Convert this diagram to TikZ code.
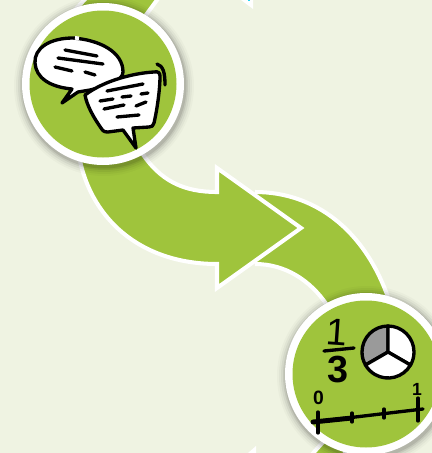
\documentclass[tikz,border=0pt]{standalone}
\usepackage{fontspec}
\setmainfont{Liberation Sans}
\definecolor{paper}{HTML}{EFF3E2}
\definecolor{leaf}{HTML}{9FC43C}
\definecolor{slice}{HTML}{9A9A9A}
\definecolor{speck}{HTML}{22D3F0}
\tikzset{
    band/.style={fill=leaf,draw=white,line width=2.3pt,line join=miter},
    ink/.style={line width=1.9pt,line cap=round,line join=round},
    bubble/.style={ink,fill=white},
    digit/.style={inner sep=0pt,text=black}
}
\begin{document}
\begin{tikzpicture}[x=0.02cm,y=-0.02cm]
\useasboundingbox (0,0) rectangle (432,453);
\fill[paper] (0,0) rectangle (432,453);

\fill[white] (241,0)--(253,9)--(253,0)--cycle;
\fill[speck] (248,0) rectangle (250,1.5);
\fill[white] (248,453)--(256,446)--(256,453)--cycle;

\draw[band] (88,-4)--(160,-4)--(120,50)--(60,26)--cycle;
\draw[band] (255,192) .. controls (315,192) and (365,230) .. (389,300)
    --(327,305) .. controls (310,280) and (285,264) .. (255,264);
\draw[band] (78,150) .. controls (88,218) and (140,264) .. (217,264)
    --(217,288)--(301,228)--(217,168)--(217,192)
    .. controls (185,192) and (160,182) .. (140,150)--cycle;
\draw[band] (305,462)--(325,440)--(345,440)--(345,462)--cycle;

\foreach \cx/\cy in {103/84,366/374}{
    \foreach \r/\o in {90/0.025,88/0.035,86/0.05,84/0.07,82.5/0.09}{
        \fill[black,opacity=\o] (\cx+1,\cy+2) circle (\r);
    }
    \fill[white] (\cx,\cy) circle (81);
    \fill[leaf] (\cx,\cy) circle (73.5);
}

\draw[bubble] (73,38) .. controls (50,38) and (34,48) .. (35,63)
    .. controls (36,78) and (50,87) .. (72,89)
    --(62,103)--(78,92)--(90,90)
    .. controls (110,85) and (123,80) .. (123,72)
    .. controls (123,52) and (100,40) .. (73,38)--cycle;
\draw[white,line width=2.1pt] (75,37.8)--(79,38.4);
\foreach \ax/\ay/\bx/\by in {65/50/97/56, 58/58/103/64, 55/67/72/71, 85/72/95/75}{
    \draw[ink] (\ax,\ay)--(\bx,\by);
}

\draw[bubble] (85,95) .. controls (105,80) and (135,73) .. (154,72)
    .. controls (158,71) and (160,73) .. (160,76)
    .. controls (160,90) and (157,110) .. (154,123)
    .. controls (153,126) and (152,127) .. (149,127)
    --(133,128)--(136,148)--(123,130)--(108,132)
    .. controls (104,132) and (103,131) .. (101,128)
    .. controls (94,118) and (87,106) .. (85,95)--cycle;
\draw[ink] (157,64) .. controls (163,66) and (165,72) .. (165,85);
\foreach \ax/\ay/\bx/\by in {107/91/143/84, 100/101/113/99, 122/97/131/96, 141/94/148/93,
    104/109/124/105, 136/106/146/102, 117/117/139/115}{
    \draw[ink] (\ax,\ay)--(\bx,\by);
}

\node[digit,font=\fontsize{21.5}{21.5}\selectfont,rotate=-4] (topone) at (337,332) {1};
\draw[ink] (324,351)--(354,348);
\node[digit,font=\fontsize{21.5}{21.5}\selectfont\bfseries] (three) at (338,370) {3};

\draw[ink,fill=slice] (388,352)--(388,326) arc (-90:-210:26)--cycle;
\draw[ink,fill=white] (388,352)--(388,326) arc (-90:30:26)--cycle;
\draw[ink,fill=white] (388,352)-- ++(30:26) arc (30:150:26)--cycle;

\node[digit,font=\fontsize{11}{11}\selectfont\bfseries] (zero) at (318.5,397.5) {0};
\node[digit,font=\fontsize{10}{10}\selectfont\bfseries] (botone) at (417,389) {1};
\draw[ink] (313,422)--(423,409);
\draw[ink,line width=2.8pt] (313,422)--(352,418);
\foreach \tx/\ta/\tb in {318/412/433,352/413/422,384/409/418,418/398/421}{
    \draw[ink] (\tx,\ta)--(\tx,\tb);
}
\end{tikzpicture}
\end{document}
